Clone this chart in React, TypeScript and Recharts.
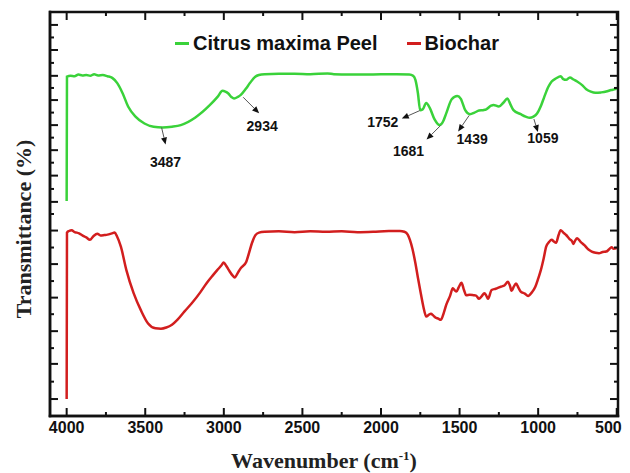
import React from 'react';
import { LineChart, Line, XAxis, YAxis, Legend, ReferenceDot, ReferenceArea } from 'recharts';

// Citrus maxima peel spectrum (wavenumber cm-1, transmittance a.u.)
const citrusWn = [
  4000, 3998, 3975, 3950, 3925, 3900, 3875, 3850, 3825, 3800, 3770, 3740, 3710, 3678, 3644, 3609,
  3562, 3505, 3447, 3389, 3330, 3274, 3181, 3088, 3040, 3008, 2990, 2973, 2950, 2935, 2910, 2892,
  2860, 2834, 2800, 2777, 2740, 2650, 2550, 2450, 2340, 2300, 2200, 2100, 2000, 1900, 1820, 1795,
  1781, 1765, 1751, 1735, 1712, 1689, 1659, 1627, 1605, 1585, 1550, 1515, 1492, 1464, 1434, 1405,
  1376, 1350, 1330, 1300, 1285, 1250, 1220, 1196, 1175, 1157, 1111, 1080, 1053, 1030, 1007, 980,
  961, 935, 914, 885, 857, 840, 822, 798, 775, 752, 720, 694, 665, 636, 600, 567, 535, 509, 500,
];
const citrusT = [
  53.2, 84.0, 84.2, 84.1, 84.5, 84.3, 84.4, 84.2, 84.6, 84.3, 84.4, 84.1, 83.7, 82.4, 79.9, 76.6,
  74.1, 72.4, 71.6, 71.4, 71.6, 72.0, 73.9, 77.0, 79.0, 80.5, 80.3, 79.9, 78.9, 78.6, 79.0, 79.5,
  81.0, 82.4, 84.0, 84.4, 84.6, 84.7, 84.7, 84.6, 84.8, 84.6, 84.5, 84.5, 84.6, 84.6, 84.5, 84.2,
  83.2, 79.9, 75.7, 75.9, 77.5, 76.2, 73.4, 72.0, 72.9, 74.9, 78.4, 79.2, 78.5, 75.7, 74.7, 75.1,
  75.6, 75.7, 75.9, 76.8, 77.0, 76.6, 77.6, 78.6, 77.0, 75.7, 74.7, 74.1, 73.8, 74.1, 74.9, 77.0,
  79.0, 81.5, 82.8, 83.6, 84.1, 83.4, 83.2, 83.8, 83.3, 82.8, 81.9, 80.9, 80.3, 80.0, 80.1, 80.3, 80.7, 80.9, 81.1,
];

// Biochar spectrum
const biocharWn = [
  4000, 3998, 3985, 3968, 3950, 3935, 3921, 3900, 3875, 3852, 3830, 3805, 3785, 3760, 3740, 3713,
  3695, 3680, 3655, 3620, 3574, 3528, 3482, 3435, 3400, 3366, 3330, 3296, 3250, 3204, 3150, 3111,
  3070, 3042, 3015, 3001, 2985, 2968, 2945, 2931, 2910, 2892, 2857, 2840, 2822, 2800, 2776, 2740,
  2650, 2550, 2450, 2350, 2250, 2150, 2050, 1950, 1880, 1851, 1830, 1816, 1800, 1781, 1765, 1747,
  1730, 1712, 1695, 1682, 1668, 1654, 1635, 1620, 1600, 1585, 1560, 1543, 1530, 1520, 1505, 1488,
  1472, 1458, 1435, 1412, 1395, 1376, 1360, 1342, 1330, 1319, 1296, 1270, 1238, 1215, 1192, 1180,
  1169, 1155, 1141, 1125, 1111, 1085, 1064, 1040, 1018, 1000, 983, 965, 949, 930, 914, 900,
  886, 870, 857, 840, 822, 800, 785, 776, 765, 752, 730, 706, 680, 659, 635, 613, 590, 567,
  550, 533, 520, 504, 500,
];
const biocharT = [
  4.2, 45.4, 45.8, 46.0, 45.5, 45.4, 45.2, 44.7, 44.2, 43.6, 44.5, 45.1, 44.7, 44.8, 44.9, 45.2,
  45.4, 44.5, 41.9, 36.1, 30.4, 26.2, 22.9, 21.7, 21.6, 21.9, 22.6, 23.8, 25.9, 27.9, 30.6, 32.8,
  34.8, 36.1, 37.3, 38.0, 37.2, 36.1, 34.8, 34.3, 35.5, 36.6, 38.2, 40.3, 42.7, 44.7, 45.4, 45.6,
  45.7, 45.5, 45.7, 45.6, 45.7, 45.5, 45.6, 45.8, 45.8, 45.6, 44.9, 43.6, 41.4, 37.8, 34.2, 30.4,
  27.0, 24.6, 25.1, 25.3, 24.9, 24.4, 24.1, 23.8, 25.6, 27.5, 29.8, 31.6, 31.1, 30.8, 31.9, 33.0,
  31.2, 29.9, 30.0, 29.9, 29.8, 29.0, 29.6, 30.4, 29.8, 29.0, 31.2, 31.5, 32.0, 32.3, 33.2, 32.3,
  31.0, 32.0, 32.8, 31.7, 30.8, 30.3, 29.7, 30.6, 32.0, 34.0, 36.1, 39.0, 41.9, 43.1, 43.6, 43.2,
  42.9, 44.8, 46.0, 45.4, 44.8, 43.8, 43.3, 42.6, 43.4, 44.0, 43.1, 42.3, 41.2, 40.7, 40.4, 40.3, 40.6, 40.7,
  41.2, 41.8, 41.4, 41.5, 41.8,
];

const seriesNames = ['Citrus maxima Peel', 'Biochar'];
const xDomain = [492, 4106];
const yDomain = [0, 100];
const xTicks = [4000, 3750, 3500, 3250, 3000, 2750, 2500, 2250, 2000, 1750, 1500, 1250, 1000, 750, 500];
const yMajorTicks = [96.8, 90.6, 84.2, 78.2, 72.0, 65.8, 59.5, 53.0, 45.9, 37.6, 29.3, 21.0, 12.9, 4.2];
const yMinorTicks = [93.7, 87.4, 81.2, 75.1, 68.9, 62.7, 56.2, 50.0, 41.7, 33.4, 25.2, 16.8, 8.5];

// peak labels, anchored where the arrow leaves the green curve
const peakLabels = ['3487', '2934', '1752', '1681', '1439', '1059'];
const peakWn = [3396, 2877, 1753, 1621, 1439, 1027];
const peakT = [71.4, 78.9, 75.6, 71.9, 74.4, 73.5];

const citrusData = citrusWn.map((wn, i) => ({ wn, t: citrusT[i] }));
const biocharData = biocharWn.map((wn, i) => ({ wn, t: biocharT[i] }));
const yTicks = [...yMajorTicks, ...yMinorTicks].sort((a, b) => b - a);
const yMajorSet = new Set(yMajorTicks);

const GREEN = '#3ad23a';
const RED = '#d21e1e';
const INK = '#111';
const SANS = "'Liberation Sans', Arial, sans-serif";
const SERIF = "'Liberation Serif', 'Times New Roman', serif";

// layout
const W = 614;
const H = 465;
const MARGIN = { top: 4, right: 4, bottom: 0, left: 0 };
const Y_AXIS_W = 42;
const X_AXIS_H = 57;
const PLOT_W = W - MARGIN.left - MARGIN.right - Y_AXIS_W;
const PLOT_H = H - MARGIN.top - MARGIN.bottom - X_AXIS_H;
const FRAME_W = 2.5;

// arrow head / label offsets (px) from each anchor
const arrowOffsets = [
  { hx: 4, hy: 17, tx: 4, ty: 34 },
  { hx: 16, hy: 16, tx: 19, ty: 29 },
  { hx: -18, hy: 8, tx: -37, ty: 11 },
  { hx: -14, hy: 14, tx: -32, ty: 25 },
  { hx: -11, hy: 16, tx: 3, ty: 24 },
  { hx: 4, hy: 13, tx: 9, ty: 19 },
];

// bottom tick, plus its mirror on the top frame edge
const XTick = ({ x, y, payload }: any) => {
  const major = payload.value % 500 === 0;
  const len = major ? 8 : 4;
  const atEdge = payload.value === xTicks[xTicks.length - 1];
  const top = y - PLOT_H;
  return (
    <g>
      <line x1={x} y1={y} x2={x} y2={y - len} stroke={INK} strokeWidth={2} />
      <line x1={x} y1={top} x2={x} y2={top + len} stroke={INK} strokeWidth={2} />
      {major && (
        <text
          x={atEdge ? x + 5 : x}
          y={y + 17}
          textAnchor={atEdge ? 'end' : 'middle'}
          fontFamily={SANS}
          fontWeight={700}
          fontSize={16}
          fill={INK}
        >
          {payload.value}
        </text>
      )}
    </g>
  );
};

// left tick, plus its mirror on the right frame edge
const YTick = ({ x, y, payload }: any) => {
  const len = yMajorSet.has(payload.value) ? 8 : 4;
  const right = x + PLOT_W;
  return (
    <g>
      <line x1={x} y1={y} x2={x + len} y2={y} stroke={INK} strokeWidth={2} />
      <line x1={right} y1={y} x2={right - len} y2={y} stroke={INK} strokeWidth={2} />
    </g>
  );
};

const XTitle = ({ viewBox }: any) => (
  <text
    x={viewBox.x + viewBox.width / 2 - 10}
    y={viewBox.y + 52}
    textAnchor="middle"
    fontFamily={SERIF}
    fontWeight={700}
    fontSize={22}
    fill="#222"
  >
    Wavenumber (cm
    <tspan dy={-8} fontSize={13}>-1</tspan>
    <tspan dy={8}>)</tspan>
  </text>
);

const YTitle = ({ viewBox }: any) => {
  const x = viewBox.x + 22.7;
  const y = viewBox.y + viewBox.height / 2 + 15;
  return (
    <text
      x={x}
      y={y}
      transform={`rotate(-90 ${x} ${y})`}
      textAnchor="middle"
      fontFamily={SERIF}
      fontWeight={700}
      fontSize={22}
      fill="#222"
    >
      Transmittance (%)
    </text>
  );
};

const PeakArrow = ({ cx, cy, label, off }: any) => {
  if (cx == null || cy == null) return null;
  const hx = cx + off.hx;
  const hy = cy + off.hy;
  const ang = Math.atan2(hy - cy, hx - cx);
  const bx = hx - 7 * Math.cos(ang);
  const by = hy - 7 * Math.sin(ang);
  const px = -Math.sin(ang) * 3;
  const py = Math.cos(ang) * 3;
  return (
    <g>
      <line x1={cx} y1={cy} x2={bx} y2={by} stroke="#555" strokeWidth={1} />
      <polygon points={`${hx},${hy} ${bx + px},${by + py} ${bx - px},${by - py}`} fill={INK} />
      <text
        x={cx + off.tx}
        y={cy + off.ty}
        textAnchor="middle"
        dominantBaseline="central"
        fontFamily={SANS}
        fontWeight={700}
        fontSize={14}
        fill={INK}
      >
        {label}
      </text>
    </g>
  );
};

const renderLegend = (props: any) => {
  const entries = (props.payload || [])
    .filter((e: any) => seriesNames.includes(e.value))
    .sort((a: any, b: any) => seriesNames.indexOf(a.value) - seriesNames.indexOf(b.value));
  return (
    <div style={{ display: 'flex', alignItems: 'center', fontFamily: SANS, fontWeight: 700, fontSize: 20, color: INK, whiteSpace: 'nowrap' }}>
      {entries.map((entry: any, i: number) => (
        <div key={entry.value} style={{ display: 'flex', alignItems: 'center', marginLeft: i ? 29 : 0 }}>
          <span style={{ display: 'inline-block', width: 14, height: 3, background: entry.color, marginRight: 4 }} />
          <span>{entry.value}</span>
        </div>
      ))}
    </div>
  );
};

const axisLine = { stroke: INK, strokeWidth: FRAME_W, strokeLinecap: 'square' as const };

export default function App() {
  return (
    <div style={{ position: 'relative', width: W, height: H }}>
      <LineChart width={W} height={H} margin={MARGIN}>
        <XAxis
          type="number"
          dataKey="wn"
          domain={xDomain}
          reversed
          allowDataOverflow
          ticks={xTicks}
          interval={0}
          height={X_AXIS_H}
          tickSize={0}
          tickMargin={0}
          tickLine={false}
          axisLine={axisLine}
          tick={<XTick />}
          label={{ content: XTitle }}
        />
        <YAxis
          type="number"
          domain={yDomain}
          allowDataOverflow
          ticks={yTicks}
          interval={0}
          width={Y_AXIS_W}
          tickSize={0}
          tickMargin={0}
          tickLine={false}
          axisLine={axisLine}
          tick={<YTick />}
          label={{ content: YTitle }}
        />
        <ReferenceArea
          x1={xDomain[0]}
          x2={xDomain[1]}
          y1={yDomain[0]}
          y2={yDomain[1]}
          fill="none"
          fillOpacity={0}
          stroke={INK}
          strokeWidth={FRAME_W}
          ifOverflow="visible"
        />
        <Legend
          layout="horizontal"
          align="center"
          verticalAlign="middle"
          content={renderLegend}
          wrapperStyle={{ top: 24, left: 167, width: 'auto' }}
        />
        <Line
          data={citrusData}
          dataKey="t"
          name={seriesNames[0]}
          type="monotone"
          stroke={GREEN}
          strokeWidth={2.5}
          dot={false}
          isAnimationActive={false}
        />
        <Line
          data={biocharData}
          dataKey="t"
          name={seriesNames[1]}
          type="monotone"
          stroke={RED}
          strokeWidth={2.5}
          dot={false}
          isAnimationActive={false}
        />
        {peakLabels.map((label, i) => (
          <ReferenceDot
            key={label}
            x={peakWn[i]}
            y={peakT[i]}
            ifOverflow="visible"
            shape={(p: any) => <PeakArrow cx={p.cx} cy={p.cy} label={label} off={arrowOffsets[i]} />}
          />
        ))}
      </LineChart>
      {/* plain frame around the plot area, in case the svg edges get trimmed */}
      <div
        style={{
          position: 'absolute',
          left: MARGIN.left + Y_AXIS_W - FRAME_W / 2,
          top: MARGIN.top - FRAME_W / 2,
          width: PLOT_W + FRAME_W,
          height: PLOT_H + FRAME_W,
          border: `${FRAME_W}px solid ${INK}`,
          boxSizing: 'border-box',
          pointerEvents: 'none',
        }}
      />
    </div>
  );
}
